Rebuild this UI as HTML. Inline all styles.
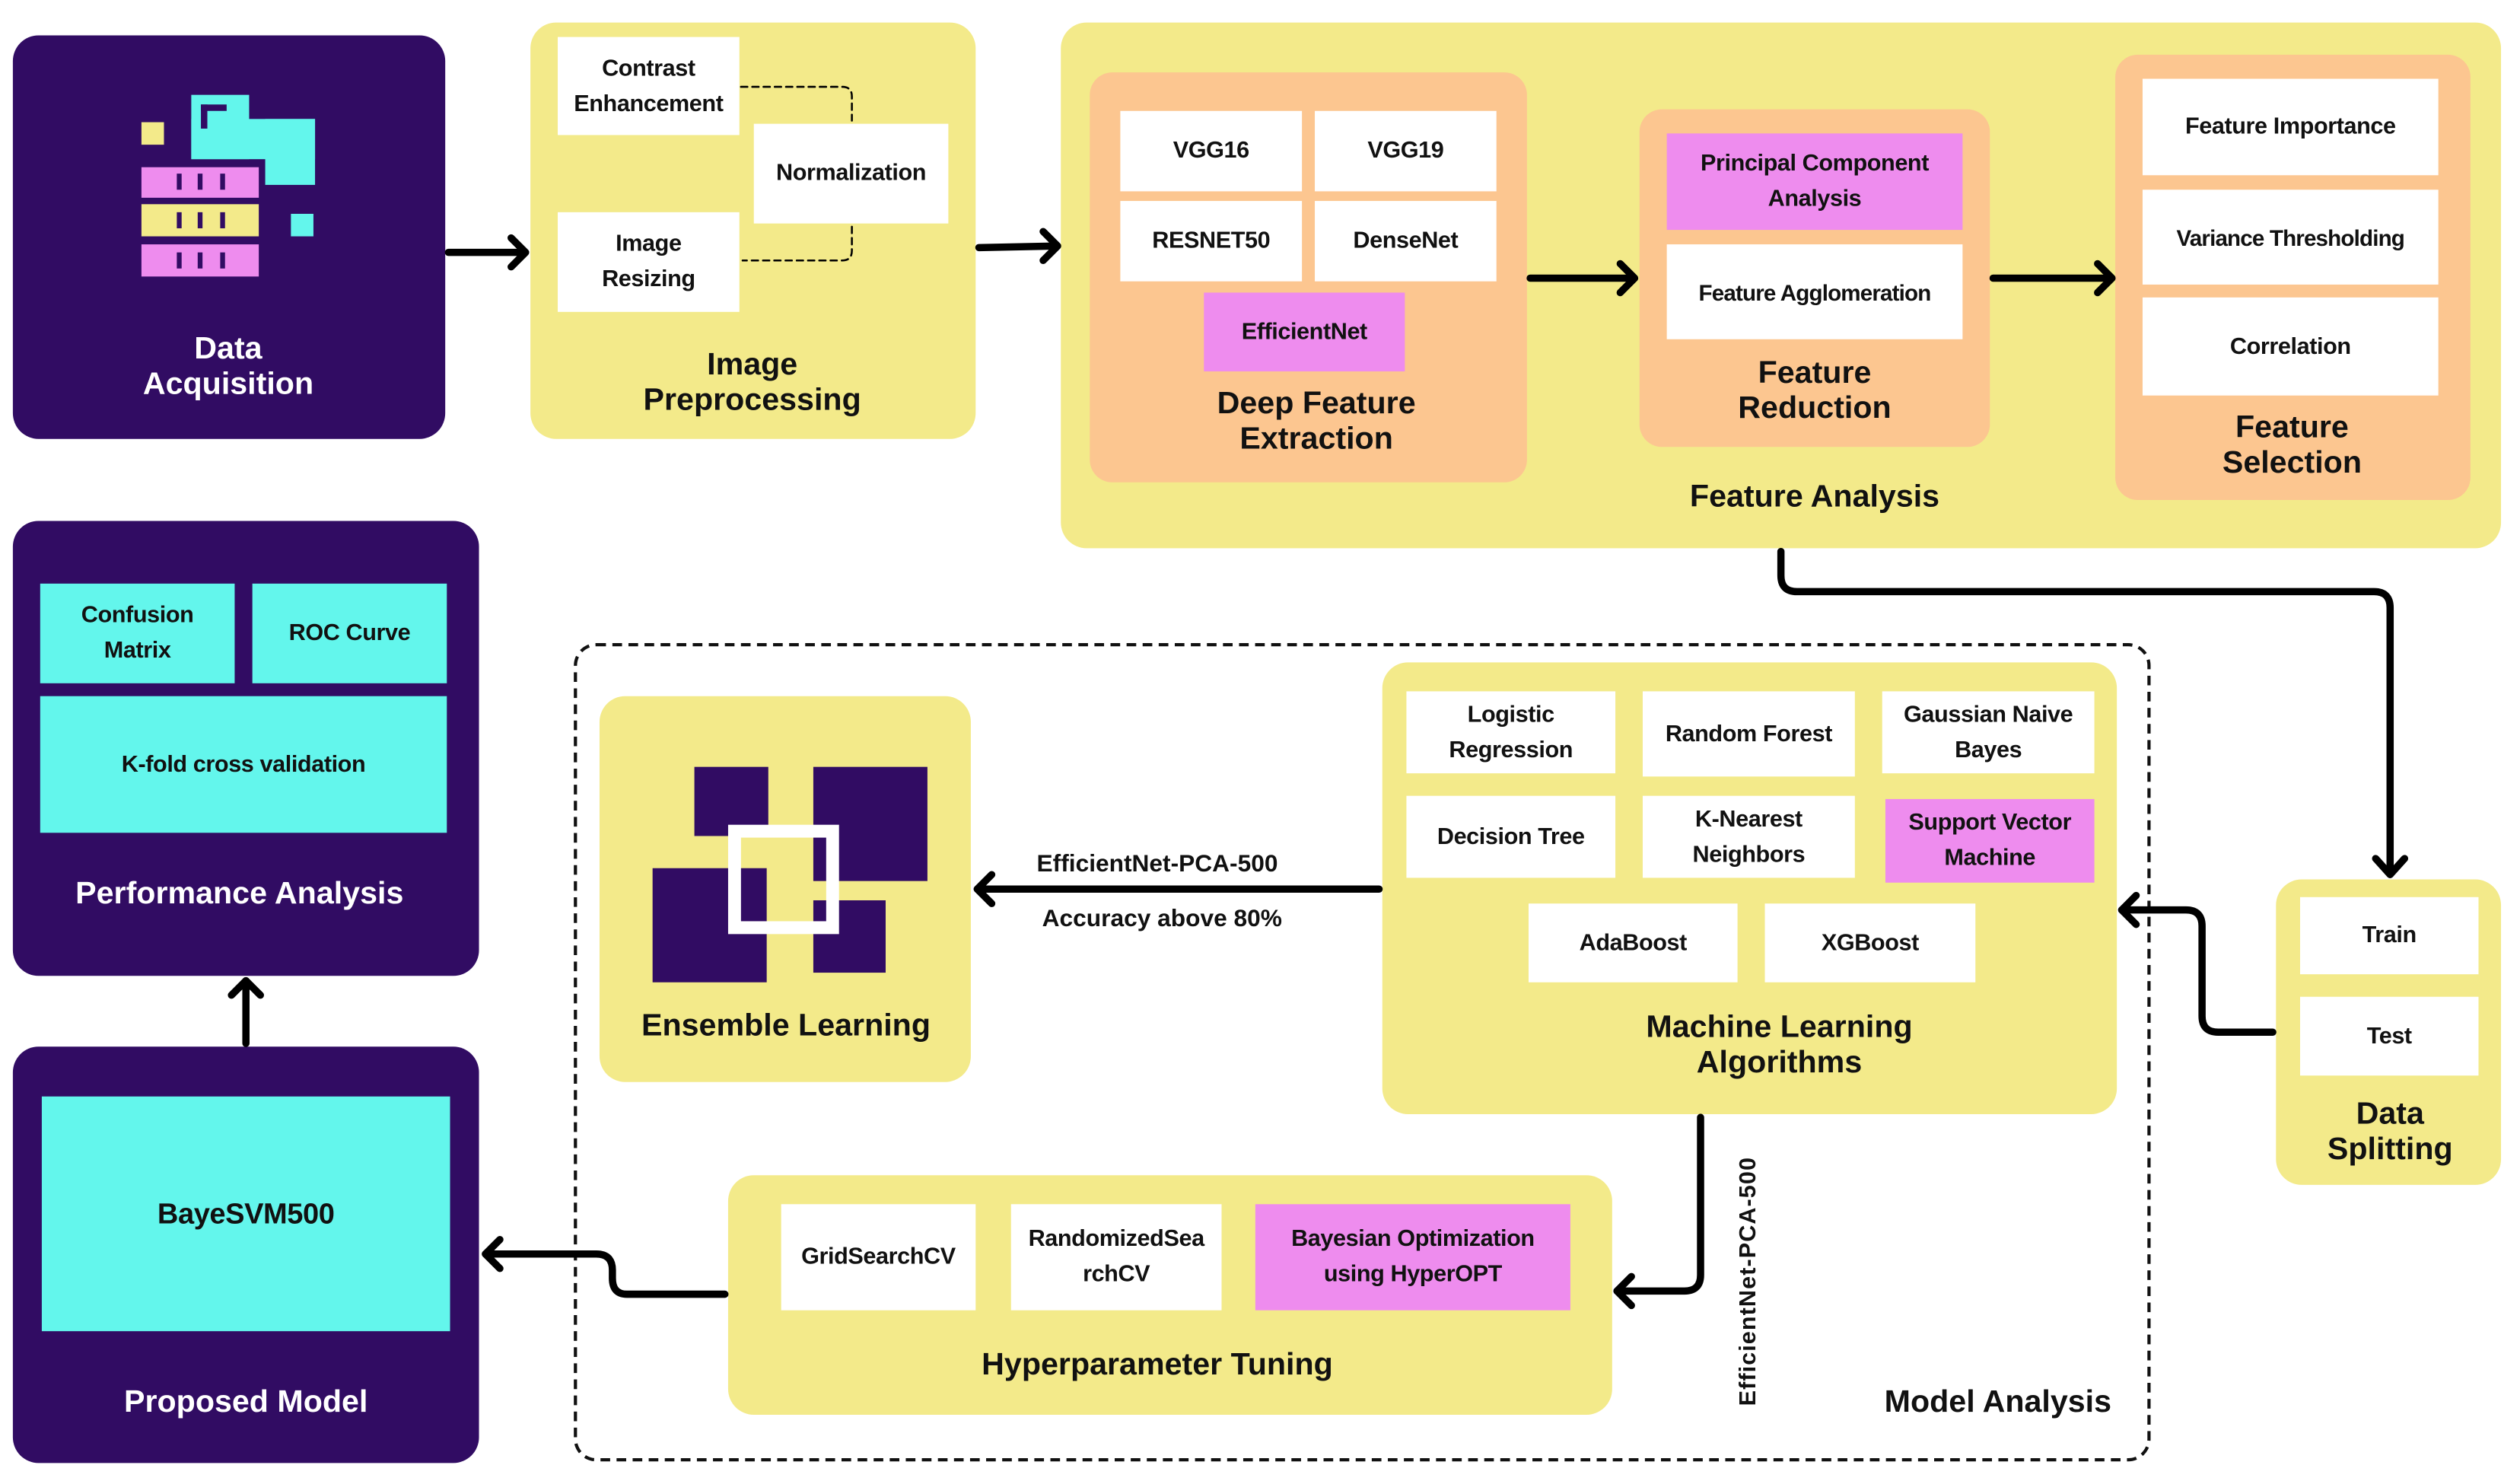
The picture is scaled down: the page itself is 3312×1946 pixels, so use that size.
<!DOCTYPE html>
<html><head><meta charset="utf-8"><style>
html,body{margin:0;padding:0;background:#fff;}
body{width:3312px;height:1945px;overflow:hidden;position:relative;}
#c{position:absolute;left:0;top:0;width:1568px;height:921px;transform:scale(2.1125);transform-origin:0 0;font-family:"Liberation Sans",sans-serif;font-weight:bold;}
.a{position:absolute;box-sizing:border-box;}
.p{background:#310c63;border-radius:16px;}
.y{background:#f3ea8a;border-radius:16px;}
.o{background:#fcc690;border-radius:14px;}
.b{position:absolute;box-sizing:border-box;display:flex;align-items:center;justify-content:center;text-align:center;font-size:14.5px;line-height:22px;color:#111;background:#fff;letter-spacing:-0.2px;}
.k{background:#ee8cee;}
.cy{background:#63f6ec;}
.t{position:absolute;text-align:center;font-size:19.5px;line-height:22px;color:#111;transform:translateX(-50%);white-space:nowrap;}
.w{color:#fff;}
svg{position:absolute;left:0;top:0;}
</style></head><body><div id="c">

<div class="a p" style="left:8px;top:22px;width:269px;height:251px;"></div>
<div class="a" style="left:88px;top:76px;width:14px;height:14px;background:#f3ea8a"></div>
<div class="a" style="left:119px;top:59px;width:36px;height:40px;background:#63f6ec"></div>
<div class="a" style="left:119px;top:74px;width:77px;height:25px;background:#63f6ec"></div>
<div class="a" style="left:165px;top:74px;width:31px;height:41px;background:#63f6ec"></div>
<div class="a" style="left:125px;top:65px;width:16px;height:4px;background:#310c63"></div>
<div class="a" style="left:125px;top:65px;width:4px;height:15px;background:#310c63"></div>
<div class="a" style="left:88px;top:104px;width:73px;height:19px;background:#ee8cee"></div>
<div class="a" style="left:88px;top:127px;width:73px;height:20px;background:#f3ea8a"></div>
<div class="a" style="left:88px;top:152px;width:73px;height:20px;background:#ee8cee"></div>
<div class="a" style="left:181px;top:133px;width:14px;height:14px;background:#63f6ec"></div>
<div class="a" style="left:110px;top:108px;width:3px;height:10px;background:#310c63"></div>
<div class="a" style="left:123px;top:108px;width:3px;height:10px;background:#310c63"></div>
<div class="a" style="left:137px;top:108px;width:3px;height:10px;background:#310c63"></div>
<div class="a" style="left:110px;top:132px;width:3px;height:10px;background:#310c63"></div>
<div class="a" style="left:123px;top:132px;width:3px;height:10px;background:#310c63"></div>
<div class="a" style="left:137px;top:132px;width:3px;height:10px;background:#310c63"></div>
<div class="a" style="left:110px;top:157px;width:3px;height:10px;background:#310c63"></div>
<div class="a" style="left:123px;top:157px;width:3px;height:10px;background:#310c63"></div>
<div class="a" style="left:137px;top:157px;width:3px;height:10px;background:#310c63"></div>
<div class="t w" style="left:142px;top:206px;">Data<br>Acquisition</div>

<div class="a y" style="left:330px;top:14px;width:277px;height:259px;"></div>
<div class="b" style="left:347px;top:23px;width:113px;height:61px;">Contrast<br>Enhancement</div>
<div class="b" style="left:469px;top:77px;width:121px;height:62px;">Normalization</div>
<div class="b" style="left:347px;top:132px;width:113px;height:62px;">Image<br>Resizing</div>
<div class="t" style="left:468px;top:216px;">Image<br>Preprocessing</div>

<div class="a y" style="left:660px;top:14px;width:896px;height:327px;"></div>
<div class="a o" style="left:678px;top:45px;width:272px;height:255px;"></div>
<div class="b" style="left:697px;top:69px;width:113px;height:50px;">VGG16</div>
<div class="b" style="left:818px;top:69px;width:113px;height:50px;">VGG19</div>
<div class="b" style="left:697px;top:125px;width:113px;height:50px;">RESNET50</div>
<div class="b" style="left:818px;top:125px;width:113px;height:50px;">DenseNet</div>
<div class="b k" style="left:749px;top:182px;width:125px;height:49px;">EfficientNet</div>
<div class="t" style="left:819px;top:240px;">Deep Feature<br>Extraction</div>

<div class="a o" style="left:1020px;top:68px;width:218px;height:210px;"></div>
<div class="b k" style="left:1037px;top:83px;width:184px;height:60px;">Principal Component<br>Analysis</div>
<div class="b" style="left:1037px;top:152px;width:184px;height:59px;font-size:14px;letter-spacing:-0.4px;">Feature Agglomeration</div>
<div class="t" style="left:1129px;top:221px;">Feature<br>Reduction</div>

<div class="a o" style="left:1316px;top:34px;width:221px;height:277px;"></div>
<div class="b" style="left:1333px;top:49px;width:184px;height:60px;">Feature Importance</div>
<div class="b" style="left:1333px;top:118px;width:184px;height:59px;font-size:14px;letter-spacing:-0.4px;">Variance Thresholding</div>
<div class="b" style="left:1333px;top:185px;width:184px;height:61px;">Correlation</div>
<div class="t" style="left:1426px;top:255px;">Feature<br>Selection</div>
<div class="t" style="left:1129px;top:298px;">Feature Analysis</div>

<div class="a p" style="left:8px;top:324px;width:290px;height:283px;"></div>
<div class="b cy" style="left:25px;top:363px;width:121px;height:62px;">Confusion<br>Matrix</div>
<div class="b cy" style="left:157px;top:363px;width:121px;height:62px;">ROC Curve</div>
<div class="b cy" style="left:25px;top:433px;width:253px;height:85px;">K-fold cross validation</div>
<div class="t w" style="left:149px;top:545px;">Performance Analysis</div>

<div class="a p" style="left:8px;top:651px;width:290px;height:259px;"></div>
<div class="b cy" style="left:26px;top:682px;width:254px;height:146px;font-size:18px;">BayeSVM500</div>
<div class="t w" style="left:153px;top:861px;">Proposed Model</div>

<div class="a" style="left:357px;top:400px;width:981px;height:509px;border:2px dashed #111;border-radius:14px;"></div>
<div class="t" style="left:1243px;top:861px;">Model Analysis</div>

<div class="a y" style="left:373px;top:433px;width:231px;height:240px;"></div>
<div class="a" style="left:432px;top:477px;width:46px;height:43px;background:#310c63"></div>
<div class="a" style="left:506px;top:477px;width:71px;height:71px;background:#310c63"></div>
<div class="a" style="left:406px;top:540px;width:71px;height:71px;background:#310c63"></div>
<div class="a" style="left:506px;top:560px;width:45px;height:45px;background:#310c63"></div>
<div class="a" style="left:453px;top:513px;width:69px;height:68px;border:8px solid #fff;"></div>
<div class="t" style="left:489px;top:627px;">Ensemble Learning</div>

<div class="a y" style="left:860px;top:412px;width:457px;height:281px;"></div>
<div class="b" style="left:875px;top:430px;width:130px;height:51px;">Logistic<br>Regression</div>
<div class="b" style="left:1022px;top:430px;width:132px;height:53px;">Random Forest</div>
<div class="b" style="left:1171px;top:430px;width:132px;height:51px;">Gaussian Naive<br>Bayes</div>
<div class="b" style="left:875px;top:495px;width:130px;height:51px;">Decision Tree</div>
<div class="b" style="left:1022px;top:495px;width:132px;height:51px;">K-Nearest<br>Neighbors</div>
<div class="b k" style="left:1173px;top:497px;width:130px;height:52px;">Support Vector<br>Machine</div>
<div class="b" style="left:951px;top:562px;width:130px;height:49px;">AdaBoost</div>
<div class="b" style="left:1098px;top:562px;width:131px;height:49px;">XGBoost</div>
<div class="t" style="left:1107px;top:628px;">Machine Learning<br>Algorithms</div>

<div class="a y" style="left:453px;top:731px;width:550px;height:149px;"></div>
<div class="b" style="left:486px;top:749px;width:121px;height:66px;">GridSearchCV</div>
<div class="b" style="left:629px;top:749px;width:131px;height:66px;">RandomizedSea<br>rchCV</div>
<div class="b k" style="left:781px;top:749px;width:196px;height:66px;">Bayesian Optimization<br>using HyperOPT</div>
<div class="t" style="left:720px;top:838px;">Hyperparameter Tuning</div>

<div class="a y" style="left:1416px;top:547px;width:140px;height:190px;"></div>
<div class="b" style="left:1431px;top:558px;width:111px;height:48px;">Train</div>
<div class="b" style="left:1431px;top:620px;width:111px;height:49px;">Test</div>
<div class="t" style="left:1487px;top:682px;">Data<br>Splitting</div>

<div class="t" style="left:720px;top:527px;font-size:15px;">EfficientNet-PCA-500</div>
<div class="t" style="left:723px;top:561px;font-size:15px;">Accuracy above 80%</div>
<div class="a" style="left:1088px;top:797px;font-size:14.5px;white-space:nowrap;transform:translate(-50%,-50%) rotate(-90deg);color:#111;letter-spacing:0.5px;">EfficientNet-PCA-500</div>

<svg width="1568" height="921" viewBox="0 0 1568 921" fill="none" stroke="#000" stroke-linecap="round" stroke-linejoin="round">
<g stroke-width="4.5">
<path d="M279 157 H326"/><path d="M318 148 L327 157 L318 166"/>
<path d="M609 154 L657 153"/><path d="M649 144 L658 153 L649 162"/>
<path d="M952 173 H1016"/><path d="M1008 164 L1017 173 L1008 182"/>
<path d="M1240 173 H1313"/><path d="M1305 164 L1314 173 L1305 182"/>
<path d="M1108 343 V358 Q1108 368 1118 368 H1477 Q1487 368 1487 378 V543"/><path d="M1478 534 L1487 544 L1496 534"/>
<path d="M1414 642 H1380 Q1370 642 1370 632 V576 Q1370 566 1360 566 H1320"/><path d="M1329 557 L1320 566 L1329 575"/>
<path d="M858 553 H608"/><path d="M617 544 L608 553 L617 562"/>
<path d="M1058 695 V793 Q1058 803 1048 803 H1006"/><path d="M1015 794 L1006 803 L1015 812"/>
<path d="M451 805 H390 Q381 805 381 795 V790 Q381 780 371 780 H302"/><path d="M311 771 L302 780 L311 789"/>
<path d="M153 649 V610"/><path d="M144 619 L153 610 L162 619"/>
</g>
<g stroke-width="1.2" stroke-dasharray="4 3">
<path d="M461 54 H524 Q530 54 530 60 V75"/>
<path d="M530 141 V156 Q530 162 524 162 H462"/>
</g>
</svg>
</div></body></html>
